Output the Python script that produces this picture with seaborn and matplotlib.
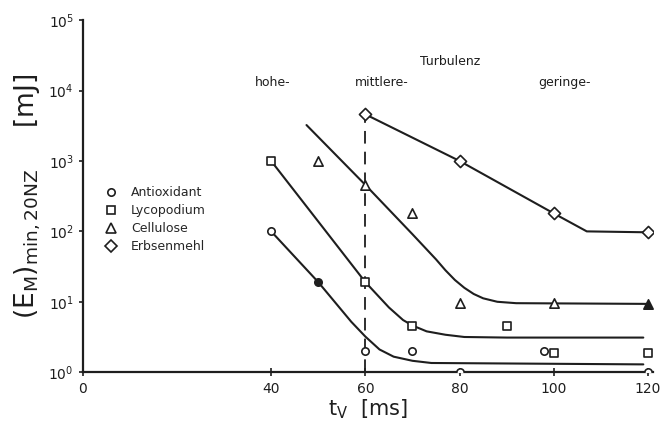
import matplotlib
matplotlib.use("Agg")
import matplotlib.pyplot as plt
from matplotlib.lines import Line2D
import seaborn as sns

antiox_t = [40, 60, 70, 80, 98, 120]
antiox_E = [100, 2, 2, 1, 2, 1]
antiox_filled_t = [50]
antiox_filled_E = [19]

lyco_t = [40, 60, 70, 90, 100, 120]
lyco_E = [1000, 19, 4.5, 4.5, 1.9, 1.9]

cell_t = [50, 60, 70, 80, 100]
cell_E = [1000, 450, 185, 9.5, 9.6]
cell_filled_t = [120]
cell_filled_E = [9.3]

erbs_t = [60, 80, 100, 120]
erbs_E = [4600, 1000, 180, 97]

# hand drawn fit curves
antiox_curve_t = [40, 50, 57, 60, 63, 66, 70, 74, 119]
antiox_curve_E = [100, 19, 5.2, 3.2, 2.1, 1.66, 1.45, 1.35, 1.29]

lyco_curve_t = [40, 50, 60, 65, 68, 70, 73, 77, 81, 90, 119]
lyco_curve_E = [1000, 138, 19, 8.3, 5.5, 4.6, 3.8, 3.4, 3.16, 3.1, 3.1]

cell_curve_t = [47.5, 60, 70, 75, 77, 79, 81, 83, 85, 88, 92, 120]
cell_curve_E = [3240, 457, 91, 40, 28, 20.4, 15.8, 12.9, 11.2, 10.0, 9.55, 9.33]

erbs_curve_t = [60, 80, 100, 107, 120]
erbs_curve_E = [4600, 1000, 180, 100, 97]

# border between hohe and mittlere turbulence
border_t = [60, 60]
border_E = [1, 6700]

xticks = [0, 40, 60, 80, 100, 120]
yticks = [1, 10, 100, 1000, 10000, 100000]

sns.set_style("ticks")
plt.rcParams['font.family'] = ['DejaVu Sans']
plt.rcParams['mathtext.fontset'] = 'dejavusans'

ink = '#1e1e1e'

fig = plt.figure(figsize=(6.62, 4.21), dpi=100)
ax = fig.add_axes([0.125, 0.116, 0.861, 0.836])
ax.set_yscale('log')

# the fit lines
for ct, ce in [(antiox_curve_t, antiox_curve_E), (lyco_curve_t, lyco_curve_E),
               (cell_curve_t, cell_curve_E), (erbs_curve_t, erbs_curve_E)]:
    sns.lineplot(x=ct, y=ce, ax=ax, color=ink, linewidth=1.5,
                 estimator=None, sort=False)

sns.lineplot(x=border_t, y=border_E, ax=ax, color=ink, linewidth=1.3,
             estimator=None, sort=False)
ax.lines[-1].set_dashes((7, 4.5))

# the measured points
sns.scatterplot(x=antiox_t, y=antiox_E, ax=ax, marker='o', s=28,
                facecolor='white', edgecolor=ink, linewidth=1.2, zorder=5)
sns.scatterplot(x=antiox_filled_t, y=antiox_filled_E, ax=ax, marker='o', s=28,
                facecolor=ink, edgecolor=ink, linewidth=1.2, zorder=5)
sns.scatterplot(x=lyco_t, y=lyco_E, ax=ax, marker='s', s=26,
                facecolor='white', edgecolor=ink, linewidth=1.2, zorder=5)
sns.scatterplot(x=cell_t, y=cell_E, ax=ax, marker='^', s=45,
                facecolor='white', edgecolor=ink, linewidth=1.2, zorder=5)
sns.scatterplot(x=cell_filled_t, y=cell_filled_E, ax=ax, marker='^', s=45,
                facecolor=ink, edgecolor=ink, linewidth=1.2, zorder=5)
sns.scatterplot(x=erbs_t, y=erbs_E, ax=ax, marker='D', s=38,
                facecolor='white', edgecolor=ink, linewidth=1.2, zorder=5)

ax.set_xlim(0, 121)
ax.set_ylim(1, 100000)
ax.set_xticks(xticks)
ax.set_yticks(yticks)
ax.minorticks_off()
ax.tick_params(axis='both', labelsize=10, length=3, width=1.2, color=ink, labelcolor=ink)
ax.tick_params(axis='x', direction='inout', length=6, pad=4)
sns.despine(ax=ax)
for s in ['left', 'bottom']:
    ax.spines[s].set_linewidth(1.6)
    ax.spines[s].set_color(ink)

ax.set_xlabel(r'$\mathrm{t_V}$  [ms]', fontsize=15, labelpad=1, color=ink)
ax.set_ylabel(r'$(\mathrm{E_M})_{\mathrm{min,20NZ}}$     [mJ]', fontsize=19, color=ink)
ax.yaxis.set_label_coords(-0.07, 0.5)

# turbulence regions
ax.text(77.9, 26300, 'Turbulenz', fontsize=9, ha='center', va='center', color=ink)
ax.text(36.6, 13200, 'hohe-', fontsize=9, ha='left', va='center', color=ink)
ax.text(57.7, 13200, 'mittlere-', fontsize=9, ha='left', va='center', color=ink)
ax.text(96.6, 13200, 'geringe-', fontsize=9, ha='left', va='center', color=ink)

handles = [
    Line2D([], [], ls='none', marker='o', ms=5.3, mfc='white', mec=ink, mew=1.2),
    Line2D([], [], ls='none', marker='s', ms=5.1, mfc='white', mec=ink, mew=1.2),
    Line2D([], [], ls='none', marker='^', ms=6.7, mfc='white', mec=ink, mew=1.2),
    Line2D([], [], ls='none', marker='D', ms=6.2, mfc='white', mec=ink, mew=1.2),
]
labels = ['Antioxidant', 'Lycopodium', 'Cellulose', 'Erbsenmehl']
ax.legend(handles, labels, loc='upper left', bbox_to_anchor=(104.75 / 662, 1 - 186 / 421),
          bbox_transform=fig.transFigure, frameon=False, fontsize=9, handlelength=1,
          handletextpad=1.1, borderpad=0, borderaxespad=0, labelspacing=0.4)

fig.savefig('out.png', dpi=100)
